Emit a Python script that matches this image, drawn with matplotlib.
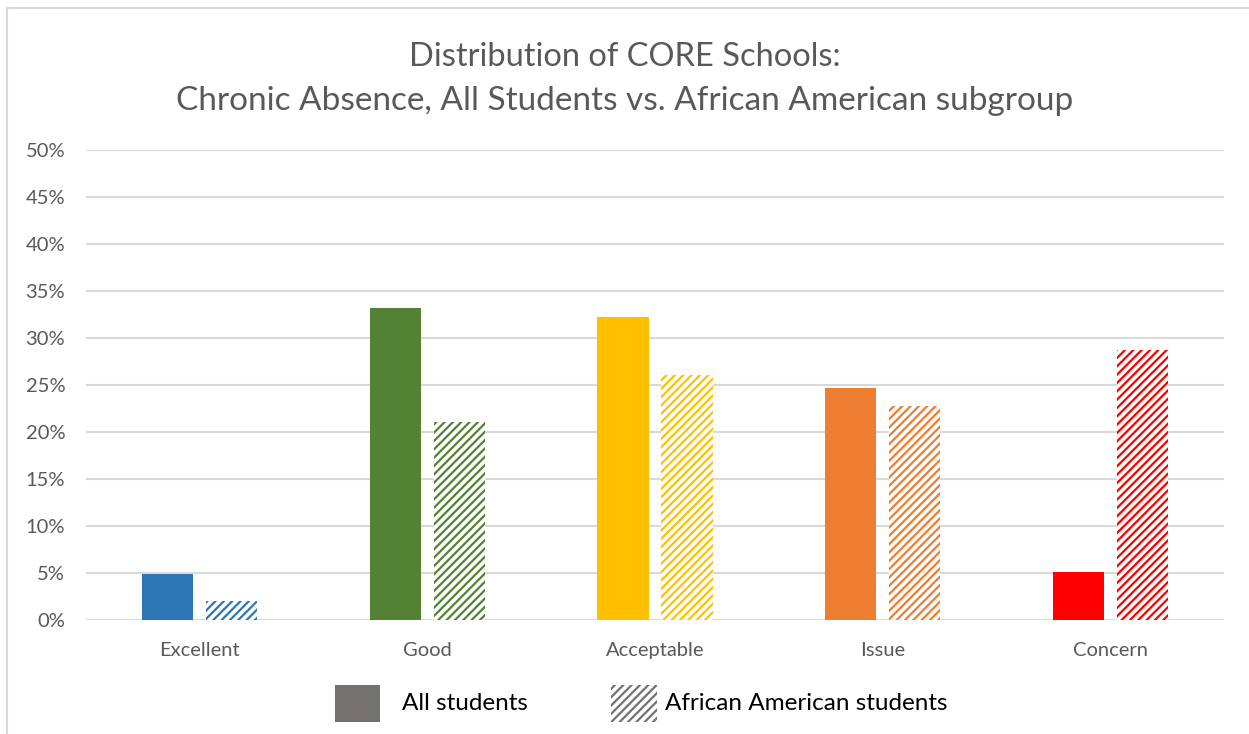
import matplotlib.pyplot as plt
import matplotlib.patches as mpatches
import numpy as np

categories = ["Excellent", "Good", "Acceptable", "Issue", "Concern"]
all_students = [4.9, 33.2, 32.2, 24.7, 5.1]
african_american = [2.0, 21.1, 26.1, 22.8, 28.7]
colors = ["#2E75B6", "#548235", "#FFC000", "#ED7D31", "#FF0000"]
yticks = [0, 5, 10, 15, 20, 25, 30, 35, 40, 45, 50]
legend_labels = ["All students", "African American students"]

plt.rcParams["font.family"] = ["Lato", "DejaVu Sans"]
plt.rcParams["hatch.linewidth"] = 1.6

W, H = 1249, 734
fig = plt.figure(figsize=(W / 100, H / 100), dpi=100)
ax = fig.add_axes([86 / W, 1 - 620 / H, (1224 - 86) / W, (620 - 150) / H])

x = np.arange(len(categories))
bw = 0.225
gap = 0.057
for i, c in enumerate(colors):
    ax.bar(x[i] - (bw + gap) / 2, all_students[i] / 100, width=bw, color=c, zorder=3)
    ax.bar(x[i] + (bw + gap) / 2, african_american[i] / 100, width=bw, facecolor="white",
           edgecolor=c, hatch="////", linewidth=0, zorder=3)

ax.set_xlim(-0.5, len(categories) - 0.5)
ax.set_ylim(0, 0.5)
ax.set_yticks([v / 100 for v in yticks])
ax.set_yticklabels([f"{v}%" for v in yticks])
ax.set_xticks(x)
ax.set_xticklabels(categories)
ax.tick_params(axis="both", length=0, labelsize=14.5, colors="#595959")
ax.tick_params(axis="y", pad=15)
ax.tick_params(axis="x", pad=16)
ax.grid(axis="y", color="#D9D9D9", linewidth=1.5, zorder=0)
for s in ax.spines.values():
    s.set_visible(False)

fig.text(0.5, 1 - 57 / H, "Distribution of CORE Schools:", ha="center", va="center",
         fontsize=23.5, color="#595959")
fig.text(0.5, 1 - 101 / H, "Chronic Absence, All Students vs. African American subgroup",
         ha="center", va="center", fontsize=24, color="#595959")

# chart frame
fig.add_artist(mpatches.Rectangle((7 / W, -0.1), 1.2, 1 - 8 / H + 0.1, transform=fig.transFigure,
                                  fill=False, edgecolor="#D9D9D9", linewidth=1.5))

# legend, placed by hand
leg_y0, leg_y1 = 1 - 722 / H, 1 - 685 / H
fig.add_artist(mpatches.Rectangle((335 / W, leg_y0), 45 / W, leg_y1 - leg_y0,
                                  transform=fig.transFigure, facecolor="#767171",
                                  edgecolor="none"))
fig.add_artist(mpatches.Rectangle((611 / W, leg_y0), 46 / W, leg_y1 - leg_y0,
                                  transform=fig.transFigure, facecolor="white",
                                  edgecolor="#767171", hatch="////", linewidth=0))
fig.text(402 / W, 1 - 703 / H, legend_labels[0], ha="left", va="center",
         fontsize=17.5, color="black")
fig.text(665 / W, 1 - 703 / H, legend_labels[1], ha="left", va="center",
         fontsize=17.5, color="black")

fig.savefig("out.png", dpi=100)
